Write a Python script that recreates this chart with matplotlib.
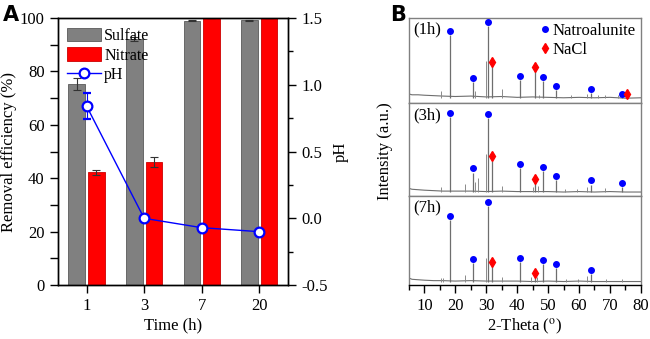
import numpy as np
import matplotlib
matplotlib.use('Agg')
import matplotlib.pyplot as plt
from matplotlib.patches import Patch
from matplotlib.lines import Line2D
from matplotlib.ticker import MultipleLocator

plt.rcParams['font.family'] = ['Liberation Serif', 'DejaVu Serif']
plt.rcParams['mathtext.fontset'] = 'stix'
plt.rcParams['font.size'] = 11

# ---- panel A data ----
times = ['1', '3', '7', '20']
sulfate = [75.2, 92.0, 99.0, 99.2]
sulfate_err = [2.2, 0.8, 0.2, 0.2]
nitrate = [42.2, 46.0, 100.0, 100.0]
nitrate_err = [1.0, 1.8, 0.0, 0.0]
ph = [0.84, 0.0, -0.07, -0.10]
ph_err = [0.10, 0.0, 0.0, 0.0]

# ---- panel B data (normalised intensity inside each stacked box) ----
samples = ['(1h)', '(3h)', '(7h)']
natro_pos = [[18.2, 25.8, 30.6, 41.0, 48.2, 52.7, 63.8, 73.8],
             [18.2, 25.8, 30.6, 41.0, 48.2, 52.7, 63.8, 73.8],
             [18.2, 25.6, 30.6, 40.8, 48.2, 52.7, 63.8]]
natro_int = [[0.80, 0.25, 0.91, 0.27, 0.26, 0.16, 0.12, 0.07],
             [0.85, 0.25, 0.84, 0.30, 0.27, 0.17, 0.12, 0.09],
             [0.73, 0.25, 0.89, 0.26, 0.24, 0.19, 0.12]]
nacl_pos = [[31.9, 45.7, 75.4],
            [31.9, 45.7],
            [31.9, 45.7]]
nacl_int = [[0.44, 0.38, 0.07],
            [0.38, 0.14],
            [0.21, 0.09]]
minor_pos = [[15.3, 26.5, 29.9, 35.1, 47.0, 57.5, 62.5, 66.0, 68.5, 72.5],
             [15.5, 23.1, 26.5, 27.3, 29.9, 35.1, 45.0, 46.8, 55.5, 59.5, 62.5, 68.5],
             [15.5, 16.0, 23.1, 29.9, 35.1, 44.5, 46.5, 55.8, 59.8, 62.7, 68.6, 73.8]]
minor_int = [[0.15, 0.14, 0.50, 0.17, 0.10, 0.10, 0.11, 0.10, 0.10, 0.10],
             [0.09, 0.13, 0.15, 0.19, 0.45, 0.11, 0.09, 0.11, 0.07, 0.07, 0.09, 0.08],
             [0.08, 0.08, 0.11, 0.30, 0.09, 0.09, 0.09, 0.07, 0.07, 0.10, 0.07, 0.07]]
base_x = [5, 6, 8, 10, 13, 16, 20, 25, 30, 35, 40, 45, 50, 55, 60, 65, 70, 75, 80]
base_y = [[0.11, 0.10, 0.10, 0.095, 0.09, 0.085, 0.08, 0.085, 0.075, 0.08, 0.07, 0.075, 0.07, 0.065, 0.07, 0.065, 0.07, 0.06, 0.065],
          [0.08, 0.07, 0.065, 0.06, 0.055, 0.05, 0.05, 0.05, 0.045, 0.05, 0.045, 0.045, 0.045, 0.04, 0.045, 0.04, 0.045, 0.04, 0.04],
          [0.08, 0.065, 0.06, 0.055, 0.05, 0.05, 0.045, 0.05, 0.045, 0.045, 0.045, 0.04, 0.045, 0.04, 0.045, 0.04, 0.04, 0.04, 0.04]]

fig = plt.figure(figsize=(6.5, 3.39), dpi=100)

# ================= panel A =================
ax = fig.add_axes([0.089, 0.159, 0.354, 0.788])
x = np.arange(len(times))
w = 0.29
ax.bar(x - 0.17, sulfate, w, color='#808080', edgecolor='#5a5a5a', lw=0.6,
       yerr=sulfate_err, capsize=3, error_kw=dict(ecolor='#333333', elinewidth=0.8, capthick=0.8),
       label='Sulfate', zorder=2)
ax.bar(x + 0.17, nitrate, w, color='#ff0000', edgecolor='#cc0000', lw=0.6,
       yerr=nitrate_err, capsize=3, error_kw=dict(ecolor='#333333', elinewidth=0.8, capthick=0.8),
       label='Nitrate', zorder=2)
ax.set_xlim(-0.5, 3.5)
ax.set_ylim(0, 100)
ax.set_xticks(x)
ax.set_xticklabels(times)
ax.yaxis.set_major_locator(MultipleLocator(20))
ax.yaxis.set_minor_locator(MultipleLocator(10))
ax.tick_params(axis='both', which='major', direction='out', length=6, width=1, labelsize=12)
ax.tick_params(axis='y', which='minor', direction='out', length=6, width=1)
ax.set_xlabel('Time (h)', fontsize=12, labelpad=2)
ax.set_ylabel('Removal efficiency (%)', fontsize=12, labelpad=2)

ax2 = ax.twinx()
ax2.errorbar(x, ph, yerr=ph_err, color='#0000ff', lw=1, marker='o', ms=7,
             mfc='white', mec='#0000ff', mew=1.6, capsize=3, elinewidth=0.8,
             label='pH', zorder=3)
ax2.set_ylim(-0.5, 1.5)
ax2.yaxis.set_major_locator(MultipleLocator(0.5))
ax2.yaxis.set_minor_locator(MultipleLocator(0.25))
ax2.set_yticks([-0.5, 0.0, 0.5, 1.0, 1.5])
ax2.set_yticklabels(['-0.5', '0.0', '0.5', '1.0', '1.5'])
ax2.tick_params(axis='y', which='major', direction='out', length=6, width=1, labelsize=12)
ax2.tick_params(axis='y', which='minor', direction='out', length=3.5, width=1)
ax2.set_ylabel('pH', fontsize=12, labelpad=4)
for a in (ax, ax2):
    for s in a.spines.values():
        s.set_linewidth(1)

handles = [Patch(facecolor='#808080', edgecolor='#5a5a5a', lw=0.6),
           Patch(facecolor='#ff0000', edgecolor='#cc0000', lw=0.6),
           Line2D([], [], color='#0000ff', lw=1, marker='o', ms=7, mfc='white',
                  mec='#0000ff', mew=1.6)]
ax2.legend(handles, ['Sulfate', 'Nitrate', 'pH'], loc='upper left', frameon=False,
           fontsize=11.5, handlelength=2.1, handleheight=0.95, labelspacing=0.2,
           handletextpad=0.2, borderaxespad=0.3, borderpad=0.3)

fig.text(0.005, 0.985, 'A', fontsize=15, fontweight='bold', family='DejaVu Sans', va='top')

# ================= panel B =================
heights = [85, 92, 89]
gs = fig.add_gridspec(3, 1, left=0.629, right=0.986, bottom=0.159, top=0.947,
                      hspace=0, height_ratios=heights)
axes_b = [fig.add_subplot(gs[i]) for i in range(3)]
for i, axb in enumerate(axes_b):
    by = base_y[i]
    bottom = min(by)
    axb.plot(base_x, by, color='#6e6e6e', lw=0.8, zorder=2)
    axb.vlines(minor_pos[i], bottom, minor_int[i], color='#8a8a8a', lw=0.7, zorder=2)
    axb.vlines(natro_pos[i], bottom, natro_int[i], color='#6e6e6e', lw=0.9, zorder=2)
    axb.vlines(nacl_pos[i], bottom, nacl_int[i], color='#6e6e6e', lw=0.9, zorder=2)
    axb.plot(natro_pos[i], np.array(natro_int[i]) + 0.045, 'o', color='#0000ff',
             ms=4, ls='none', zorder=3)
    axb.plot(nacl_pos[i], np.array(nacl_int[i]) + 0.045, 'd', color='#ff0000',
             ms=5, ls='none', zorder=3)
    axb.set_xlim(5, 80)
    axb.set_ylim(0, 1)
    axb.set_yticks([])
    for s in axb.spines.values():
        s.set_color('#808080')
        s.set_linewidth(1)
    axb.text(0.02, 0.87, samples[i], transform=axb.transAxes, fontsize=12, va='center')
    if i < 2:
        axb.tick_params(axis='x', which='both', bottom=False, labelbottom=False)

axb = axes_b[-1]
axb.spines['bottom'].set_color('black')
axb.xaxis.set_major_locator(MultipleLocator(10))
axb.xaxis.set_minor_locator(MultipleLocator(5))
axb.tick_params(axis='x', which='major', direction='out', length=6, width=1, labelsize=12)
axb.tick_params(axis='x', which='minor', direction='out', length=3.5, width=1)
axb.set_xlabel(r'2-Theta ($^{\rm o}$)', fontsize=12, labelpad=2)

leg_handles = [Line2D([], [], color='#0000ff', marker='o', ms=4, ls='none'),
               Line2D([], [], color='#ff0000', marker='d', ms=5, ls='none')]
axes_b[0].legend(leg_handles, ['Natroalunite', 'NaCl'], loc='upper right', frameon=False,
                 fontsize=12, handlelength=0.6, handletextpad=0.15, labelspacing=0.2,
                 borderaxespad=0.1, borderpad=0.2)

fig.text(0.593, 0.555, 'Intensity (a.u.)', rotation=90, fontsize=12, ha='center', va='center')
fig.text(0.6, 0.985, 'B', fontsize=15, fontweight='bold', family='DejaVu Sans', va='top')

fig.savefig('out.png', dpi=100)
